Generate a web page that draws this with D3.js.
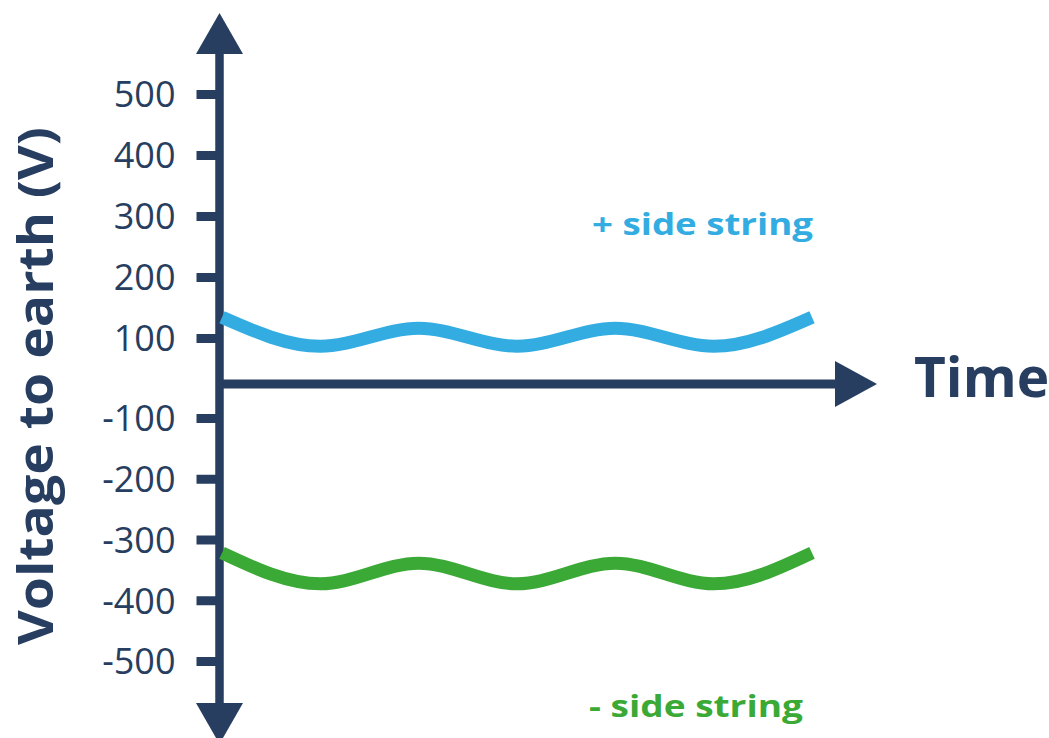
<!DOCTYPE html>
<html>
<head>
<meta charset="utf-8">
<script src="https://cdn.jsdelivr.net/npm/d3@7/dist/d3.min.js"></script>
<style>
  html, body { margin: 0; padding: 0; background: #ffffff; }
  svg { display: block; }
  text { font-family: "Open Sans", "DejaVu Sans", sans-serif; }
</style>
</head>
<body>
<svg id="chart" width="1049" height="738"></svg>
<script>
// ---- data ----
const timePoints = [0, 1, 2, 3, 4, 5, 6];
const positiveString = [134, 82, 116, 82, 116, 82, 134];
const negativeString = [-322, -373, -339, -373, -339, -373, -322];
const yTickValues = [-500, -400, -300, -200, -100, 100, 200, 300, 400, 500];
const seriesLabels = ["+ side string", "- side string"];
const axisTitles = { x: "Time", y: "Voltage to earth (V)" };

// ---- style ----
const navy = "#273e60";
const blue = "#33ace1";
const green = "#3aa935";

const svg = d3.select("#chart");

// broken (polylinear) y scale: the zero line sits in a wider gap
const y = d3.scaleLinear()
  .domain([-500, -100, 0, 100, 500])
  .range([661, 418, 384, 338, 94]);

const x = d3.scaleLinear().domain([0, 6]).range([222, 812]);

const axisX = 219.5;
const zeroY = y(0);

// y axis ticks and labels via d3 axis
const yAxis = d3.axisLeft(y)
  .tickValues(yTickValues)
  .tickSize(23)
  .tickPadding(21)
  .tickFormat(d => String(d));

const gy = svg.append("g")
  .attr("transform", `translate(${axisX},0)`)
  .call(yAxis);
gy.select(".domain").remove();
gy.selectAll(".tick line")
  .attr("stroke", navy)
  .attr("stroke-width", 9);
gy.selectAll(".tick text")
  .attr("fill", navy)
  .attr("font-size", 36)
  .attr("font-family", '"Open Sans", sans-serif')
  .attr("dy", "0.36em");

// vertical axis line with arrowheads
svg.append("line")
  .attr("x1", axisX).attr("x2", axisX)
  .attr("y1", 40).attr("y2", 715)
  .attr("stroke", navy).attr("stroke-width", 8.5);
svg.append("path")
  .attr("d", `M${axisX},13 L${axisX + 23.5},54 L${axisX - 23.5},54 Z`)
  .attr("fill", navy);
svg.append("path")
  .attr("d", `M${axisX},744 L${axisX + 23.5},703 L${axisX - 23.5},703 Z`)
  .attr("fill", navy);

// horizontal axis line with arrowhead
svg.append("line")
  .attr("x1", axisX).attr("x2", 850)
  .attr("y1", zeroY).attr("y2", zeroY)
  .attr("stroke", navy).attr("stroke-width", 9);
svg.append("path")
  .attr("d", `M877,${zeroY} L835,${zeroY - 23} L835,${zeroY + 23} Z`)
  .attr("fill", navy);

// series lines
const line = d3.line()
  .x((d, i) => x(timePoints[i]))
  .y(d => y(d))
  .curve(d3.curveMonotoneX);

svg.append("path")
  .datum(positiveString)
  .attr("d", line)
  .attr("fill", "none")
  .attr("stroke", blue)
  .attr("stroke-width", 13);

svg.append("path")
  .datum(negativeString)
  .attr("d", line)
  .attr("fill", "none")
  .attr("stroke", green)
  .attr("stroke-width", 13);

// series labels
svg.append("text")
  .attr("x", 592).attr("y", 235)
  .attr("fill", blue)
  .attr("font-size", 31)
  .attr("font-weight", 700)
  .attr("textLength", 221)
  .attr("lengthAdjust", "spacingAndGlyphs")
  .text(seriesLabels[0]);

svg.append("text")
  .attr("x", 589).attr("y", 717)
  .attr("fill", green)
  .attr("font-size", 31)
  .attr("font-weight", 700)
  .attr("textLength", 214)
  .attr("lengthAdjust", "spacingAndGlyphs")
  .text(seriesLabels[1]);

// axis titles
svg.append("text")
  .attr("x", 914).attr("y", 397)
  .attr("fill", navy)
  .attr("font-size", 55)
  .attr("font-weight", 700)
  .text(axisTitles.x);

svg.append("text")
  .attr("transform", "translate(53,386) rotate(-90)")
  .attr("text-anchor", "middle")
  .attr("fill", navy)
  .attr("font-size", 48)
  .attr("font-weight", 700)
  .attr("textLength", 518)
  .attr("lengthAdjust", "spacingAndGlyphs")
  .text(axisTitles.y);
</script>
</body>
</html>
